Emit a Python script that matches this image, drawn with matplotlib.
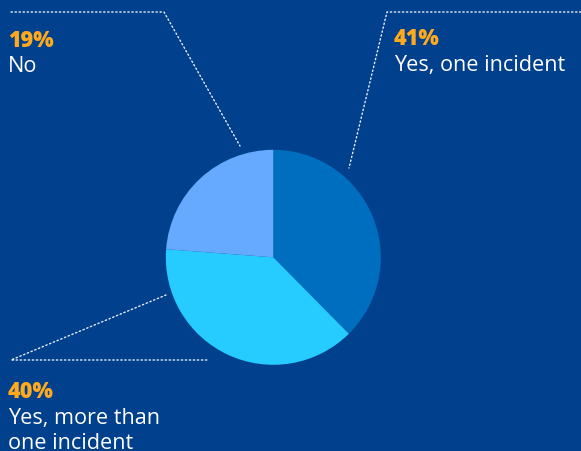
import matplotlib
matplotlib.use("Agg")
import matplotlib.pyplot as plt

# Data
categories = ["Yes, one incident", "Yes, more than\none incident", "No"]
label_pcts = ["41%", "40%", "19%"]
slice_shares = [37.6, 38.6, 23.8]   # shares as drawn in the pie
colors = ["#006EBE", "#26CCFF", "#66AAFF"]

BG = "#01408C"
ORANGE = "#FFA91F"
W, H = 581, 452

fig = plt.figure(figsize=(W / 100, H / 100), dpi=100, facecolor=BG)
ax = fig.add_axes([0, 0, 1, 1])
ax.set_facecolor(BG)

cx, cy, r = 273.3, H - 258.3, 107.5
ax.pie(slice_shares, colors=colors, startangle=90, counterclock=False,
       center=(cx, cy), radius=r, wedgeprops=dict(linewidth=0))
ax.set_xlim(0, W)
ax.set_ylim(0, H)
ax.set_aspect("auto")
ax.axis("off")

dot = dict(color="#E6EEF8", lw=1.0, linestyle=(0, (1, 1.9)), solid_capstyle="round",
           dash_capstyle="round")

def iy(y):
    return H - y

# leader lines (image coords)
ax.plot([11, 164, 240], [iy(13), iy(13), iy(147)], **dot)
ax.plot([581, 387, 349], [iy(13), iy(13), iy(169)], **dot)
ax.plot([166, 11, 209], [iy(296), iy(361), iy(361)], **dot)

fam = ["Open Sans", "DejaVu Sans"]
fs = 15.6
bw = 800

# No
ax.text(8, iy(47), label_pcts[2], color=ORANGE, fontsize=fs, fontweight=bw,
        family=fam, va="baseline", ha="left")
ax.text(8, iy(72), categories[2], color="white", fontsize=fs, family=fam,
        va="baseline", ha="left")
# Yes, one incident
ax.text(394, iy(45), label_pcts[0], color=ORANGE, fontsize=fs, fontweight=bw,
        family=fam, va="baseline", ha="left")
ax.text(394, iy(71), categories[0], color="white", fontsize=fs, family=fam,
        va="baseline", ha="left")
# Yes, more than one incident
ax.text(8, iy(398), label_pcts[1], color=ORANGE, fontsize=fs, fontweight=bw,
        family=fam, va="baseline", ha="left")
lines = categories[1].split("\n")
ax.text(8, iy(424), lines[0], color="white", fontsize=fs, family=fam,
        va="baseline", ha="left")
ax.text(8, iy(449), lines[1], color="white", fontsize=fs, family=fam,
        va="baseline", ha="left")

fig.savefig("out.png", dpi=100, facecolor=BG)
